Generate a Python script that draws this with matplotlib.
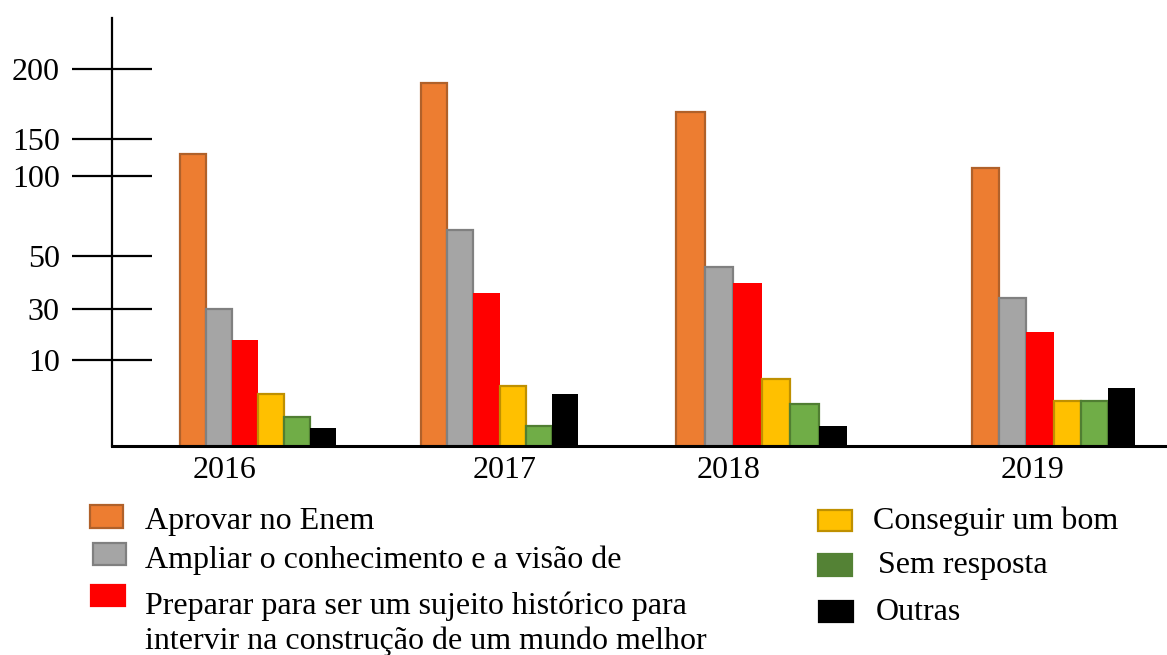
import numpy as np
import matplotlib
matplotlib.use("Agg")
import matplotlib.pyplot as plt
from matplotlib.patches import Rectangle

plt.rcParams['font.family'] = ['Liberation Serif', 'DejaVu Serif']

# ---------------- data ----------------
years = ["2016", "2017", "2018", "2019"]
series_names = [
    "Aprovar no Enem",
    "Ampliar o conhecimento e a visão de",
    "Preparar para ser um sujeito histórico para\nintervir na construção de um mundo melhor",
    "Conseguir um bom",
    "Sem resposta",
    "Outras",
]
aprovar = [130, 190, 169, 111]
ampliar = [30, 66, 46, 34]
preparar = [18, 36, 40, 21]
conseguir = [6, 7, 7.8, 5.2]
sem_resposta = [3.4, 2.3, 4.9, 5.2]
outras = [2.1, 6, 2.3, 6.7]
ytick_values = [10, 30, 50, 100, 150, 200]

series = [aprovar, ampliar, preparar, conseguir, sem_resposta, outras]

# ---------------- styles ----------------
fills = ["#ED7D31", "#A5A5A5", "#FF0000", "#FFC000", "#70AD47", "#000000"]
edges = ["#B0612A", "#808080", "#FF0000", "#BF9000", "#507E32", "#000000"]
legend_fills = ["#ED7D31", "#A5A5A5", "#FF0000", "#FFC000", "#548235", "#000000"]
legend_edges = ["#B0612A", "#808080", "#FF0000", "#BF9000", "#548235", "#000000"]

W, H = 1167, 655
fig = plt.figure(figsize=(W / 100, H / 100), dpi=100)
ax = fig.add_axes([112 / W, (H - 446) / H, (W - 112) / W, (446 - 18) / H])

# irregular (hand drawn) vertical scale: value -> height in px above baseline
knot_v = np.array([0, 10, 30, 50, 100, 150, 200], dtype=float)
knot_h = np.array([0, 86, 137, 190, 270, 307, 377], dtype=float)
lo_slope = knot_h[1] / knot_v[1]
hi_slope = (knot_h[-1] - knot_h[-2]) / (knot_v[-1] - knot_v[-2])


def fwd(v):
    v = np.asarray(v, dtype=float)
    out = np.interp(v, knot_v, knot_h)
    out = np.where(v > knot_v[-1], knot_h[-1] + (v - knot_v[-1]) * hi_slope, out)
    out = np.where(v < 0, v * lo_slope, out)
    return out


def inv(h):
    h = np.asarray(h, dtype=float)
    out = np.interp(h, knot_h, knot_v)
    out = np.where(h > knot_h[-1], knot_v[-1] + (h - knot_h[-1]) / hi_slope, out)
    out = np.where(h < 0, h / lo_slope, out)
    return out


ax.set_yscale('function', functions=(fwd, inv))
ax.set_xlim(112, 1167)
ax.set_ylim(0, float(inv(428)))

# group layout (pixel-like x units)
group_start = [180, 421, 676, 972]
group_width = [26, 26.2, 28.5, 27.2]
label_x = [225, 505, 729, 1033]

for gi in range(len(years)):
    for si, vals in enumerate(series):
        x = group_start[gi] + si * group_width[gi]
        lw = 0 if si in (2, 5) else 1.6
        ax.bar(x, vals[gi], width=group_width[gi], align='edge',
               color=fills[si], edgecolor=edges[si], linewidth=lw, zorder=2)

for s in ['top', 'right']:
    ax.spines[s].set_visible(False)
ax.spines['left'].set_linewidth(1.6)
ax.spines['bottom'].set_linewidth(2.2)
ax.spines['bottom'].set_zorder(3)

ax.set_yticks(ytick_values)
ax.set_yticklabels([str(v) for v in ytick_values])
ax.tick_params(axis='y', direction='inout', length=57, width=1.6,
               pad=9, labelsize=23)
ax.minorticks_off()

ax.set_xticks(label_x)
ax.set_xticklabels(years)
ax.tick_params(axis='x', length=0, pad=7, labelsize=23)

# ---------------- legend (manual) ----------------
def fig_rect(x0, y0, x1, y1, fc, ec):
    fig.add_artist(Rectangle((x0 / W, 1 - y1 / H), (x1 - x0) / W, (y1 - y0) / H,
                             transform=fig.transFigure, facecolor=fc,
                             edgecolor=ec, linewidth=1.6))

left_boxes = [(90, 505, 123, 528), (93, 543, 126, 565), (91, 585, 125, 606)]
right_boxes = [(818, 510, 852, 531), (818, 554, 852, 576), (819, 601, 853, 622)]
left_text = [(145, 521), (145, 560), (145, 624)]
right_text = [(873, 521), (878, 566), (876, 613)]

for i in range(3):
    fig_rect(*left_boxes[i], legend_fills[i], legend_edges[i])
    fig.text(left_text[i][0] / W, 1 - left_text[i][1] / H, series_names[i],
             fontsize=23, va='center', ha='left', linespacing=1.25)
for i in range(3):
    fig_rect(*right_boxes[i], legend_fills[i + 3], legend_edges[i + 3])
    fig.text(right_text[i][0] / W, 1 - right_text[i][1] / H, series_names[i + 3],
             fontsize=23, va='center', ha='left')

fig.savefig("out.png", dpi=100)
